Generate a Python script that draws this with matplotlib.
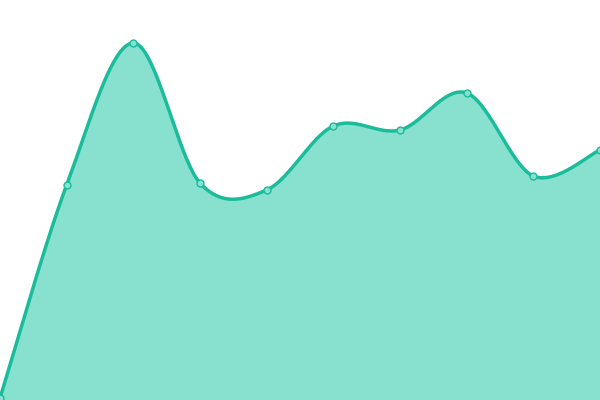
import numpy as np
import matplotlib
matplotlib.use("Agg")
import matplotlib.pyplot as plt

x_idx = [0, 1, 2, 3, 4, 5, 6, 7, 8, 9]
values = [2, 215, 357, 217, 210, 274, 270, 307, 224, 250]

line_color = "#1abc9c"
fill_color = "#88e0cf"


def catmull_rom(xs, ys, n=40, tension=0.5):
    xs = np.asarray(xs, float)
    ys = np.asarray(ys, float)
    px = np.concatenate([[xs[0]], xs, [xs[-1]]])
    py = np.concatenate([[ys[0]], ys, [ys[-1]]])
    ox, oy = [], []
    for i in range(1, len(px) - 2):
        p0 = np.array([px[i - 1], py[i - 1]])
        p1 = np.array([px[i], py[i]])
        p2 = np.array([px[i + 1], py[i + 1]])
        p3 = np.array([px[i + 2], py[i + 2]])
        m1 = tension * (p2 - p0)
        m2 = tension * (p3 - p1)
        t = np.linspace(0, 1, n, endpoint=False)[:, None]
        h00 = 2 * t**3 - 3 * t**2 + 1
        h10 = t**3 - 2 * t**2 + t
        h01 = -2 * t**3 + 3 * t**2
        h11 = t**3 - t**2
        pts = h00 * p1 + h10 * m1 + h01 * p2 + h11 * m2
        ox.extend(pts[:, 0])
        oy.extend(pts[:, 1])
    ox.append(xs[-1])
    oy.append(ys[-1])
    return np.array(ox), np.array(oy)


fig = plt.figure(figsize=(6, 4), dpi=100)
ax = fig.add_axes([0, 0, 1, 1])
sx, sy = catmull_rom(x_idx, values)
ax.fill_between(sx, 0, sy, color=fill_color, lw=0)
ax.plot(sx, sy, color=line_color, lw=2.5, solid_capstyle="round")
ax.plot(x_idx, values, "o", ms=5, mfc=fill_color, mec=line_color, mew=1)
ax.set_xlim(0, 9)
ax.set_ylim(0, 400)
ax.axis("off")
fig.savefig("out.png", dpi=100)
